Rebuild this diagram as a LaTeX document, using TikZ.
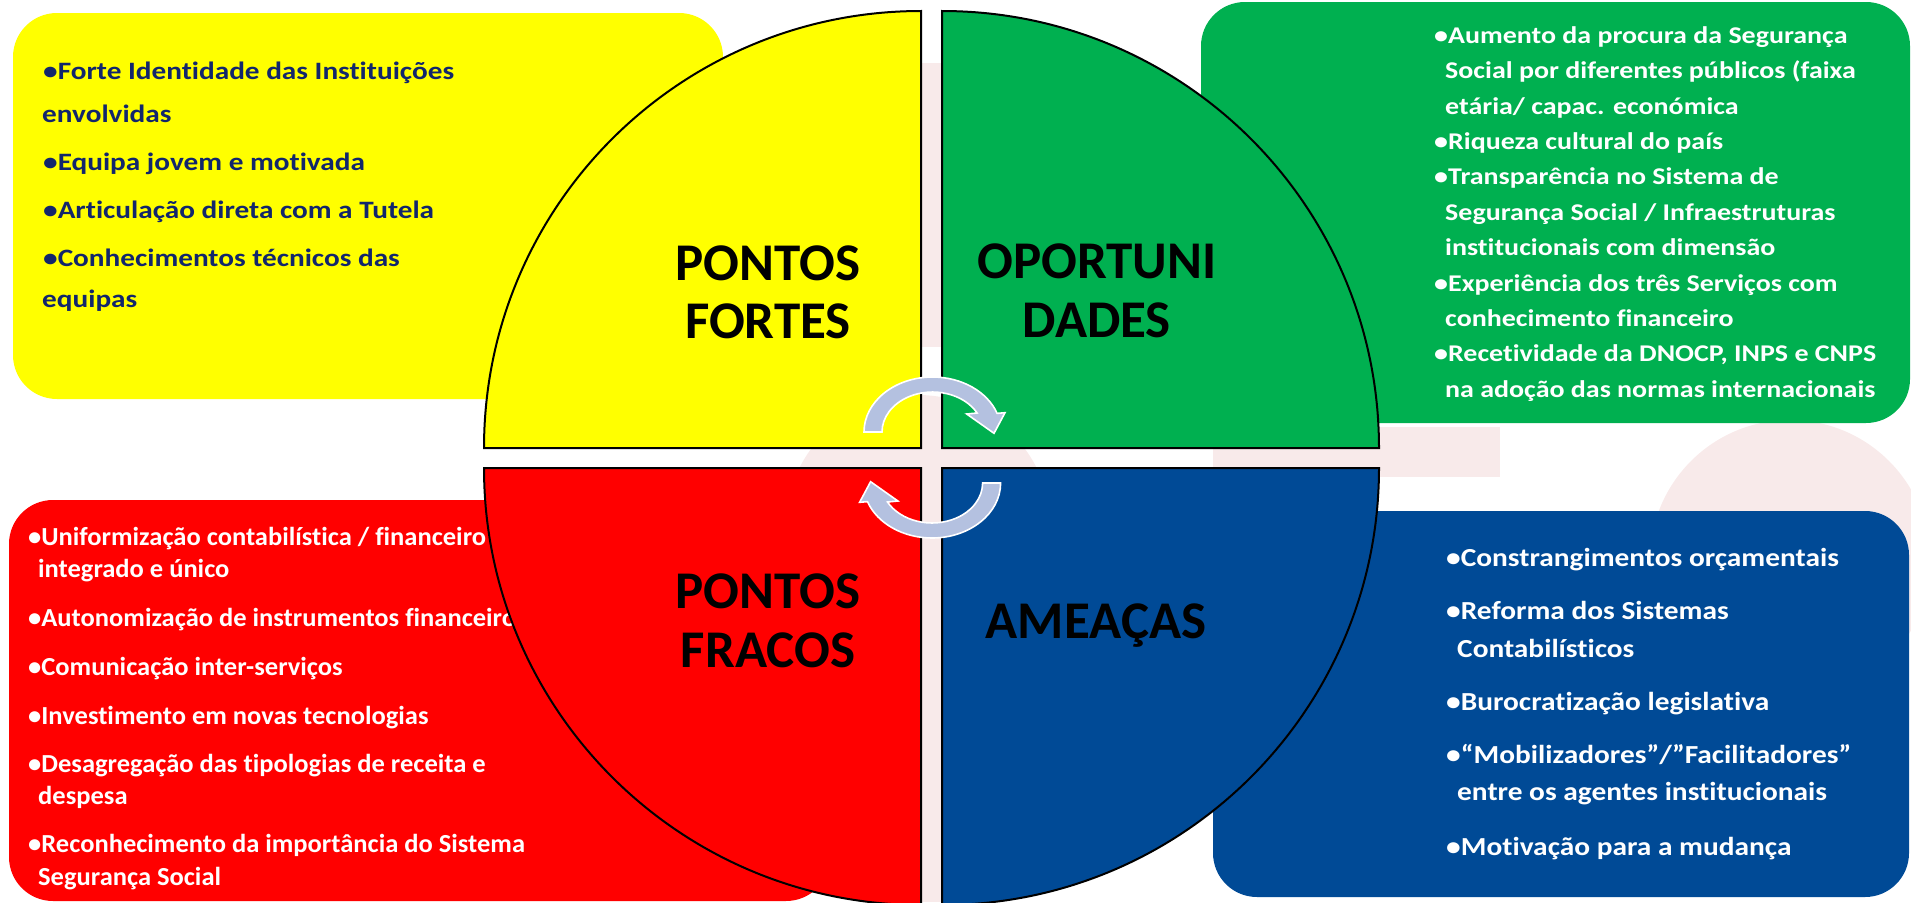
\documentclass[tikz,border=0pt]{standalone}
\usepackage{fontspec}
\setmainfont[Ligatures=NoCommon]{Carlito}
\newfontfamily\fyel[FakeStretch=1.17,Ligatures=NoCommon]{Carlito}
\newfontfamily\fgrn[FakeStretch=1.165,Ligatures=NoCommon]{Carlito}
\newfontfamily\fred[FakeStretch=1.02,Ligatures=NoCommon]{Carlito}
\newfontfamily\fblu[FakeStretch=1.13,Ligatures=NoCommon]{Carlito}
\definecolor{qyellow}{RGB}{255,255,0}
\definecolor{qgreen}{RGB}{0,176,80}
\definecolor{qred}{RGB}{255,0,0}
\definecolor{qblue}{RGB}{0,74,150}
\definecolor{navytxt}{RGB}{18,38,108}
\definecolor{arrowfill}{RGB}{180,193,224}
\definecolor{wm}{RGB}{248,234,234}
\begin{document}
\begin{tikzpicture}[x=1pt,y=-1pt,
  box/.style={rounded corners=44pt},
  quad/.style={draw=black,line width=2pt,line join=miter},
  item/.style={anchor=base west,inner sep=0pt},
  yitem/.style={item,text=navytxt,font=\fyel\bfseries\fontsize{25}{30}\selectfont},
  gitem/.style={item,text=white,font=\fgrn\bfseries\fontsize{24}{30}\selectfont},
  ritem/.style={item,text=white,font=\fred\bfseries\fontsize{26}{30}\selectfont},
  bitem/.style={item,text=white,font=\fblu\bfseries\fontsize{26}{30}\selectfont},
  big/.style={anchor=base,inner sep=0pt,font=\bfseries\fontsize{53}{58}\selectfont,text=black},
  cyc/.style={fill=arrowfill,draw=white,line width=1.6pt,line join=miter},
  wmark/.style={fill=wm,draw=none}]
\useasboundingbox (0,0) rectangle (1911,902);
% faint watermark shapes
\fill[wmark] (903,63) rectangle (962,347);
\fill[wmark] (903,528) rectangle (962,902);
\fill[wmark] (918,528) circle[radius=133pt];
\fill[wmark] (1790,560) circle[radius=140pt];
\fill[wmark] (1213,427) rectangle (1500,477);
% boxes
\fill[qyellow,box] (13,13) rectangle (723,399);
\fill[qgreen,box] (1201,2) rectangle (1910,423);
\fill[qred,box] (9,500) rectangle (830,901);
\fill[qblue,box] (1213,511) rectangle (1909,897);
% yellow text
\begin{scope}[every node/.append style={yitem}]
\node (y1) at (43,79) {•Forte Identidade das Instituições};
\node (y2) at (42,122) {envolvidas};
\node (y3) at (43,170) {•Equipa jovem e motivada};
\node (y4) at (43,218) {•Articulação direta com a Tutela};
\node (y5) at (43,266) {•Conhecimentos técnicos das};
\node (y6) at (42,307) {equipas};
\end{scope}
% green text
\begin{scope}[every node/.append style={gitem}]
\node (g1) at (1434,43.5) {•Aumento da procura da Segurança};
\node (g2) at (1445,78.9) {Social por diferentes públicos (faixa};
\node (g3) at (1445,114.2) {etária/ capac. económica};
\node (g4) at (1434,149.6) {•Riqueza cultural do país};
\node (g5) at (1434,184.9) {•Transparência no Sistema de};
\node (g6) at (1445,220.3) {Segurança Social / Infraestruturas};
\node (g7) at (1445,255.6) {institucionais com dimensão};
\node (g8) at (1434,291.0) {•Experiência dos três Serviços com};
\node (g9) at (1445,326.3) {conhecimento financeiro};
\node (g10) at (1434,361.7) {•Recetividade da DNOCP, INPS e CNPS};
\node (g11) at (1445,397.0) {na adoção das normas internacionais};
\end{scope}
% red text
\begin{scope}[every node/.append style={ritem}]
\node (r1) at (28,545) {•Uniformização contabilística / financeiro};
\node (r2) at (38,577.5) {integrado e único};
\node (r3) at (28,626.5) {•Autonomização de instrumentos financeiro};
\node (r4) at (28,675) {•Comunicação inter-serviços};
\node (r5) at (28,724) {•Investimento em novas tecnologias};
\node (r6) at (28,772.5) {•Desagregação das tipologias de receita e};
\node (r7) at (38,804) {despesa};
\node (r8) at (28,852.5) {•Reconhecimento da importância do Sistema};
\node (r9) at (38,885) {Segurança Social};
\end{scope}
% blue text
\begin{scope}[every node/.append style={bitem}]
\node (b1) at (1446,566) {•Constrangimentos orçamentais};
\node (b2) at (1446,619) {•Reforma dos Sistemas};
\node (b3) at (1457,657) {Contabilísticos};
\node (b4) at (1446,710) {•Burocratização legislativa};
\node (b5) at (1446,763) {•“Mobilizadores”/”Facilitadores”};
\node (b6) at (1457,800) {entre os agentes institucionais};
\node (b7) at (1446,855) {•Motivação para a mudança};
\end{scope}
% quadrants
\draw[quad,fill=qyellow] (921,448) -- (921,11) arc[start angle=90,end angle=180,radius=437pt] -- cycle;
\draw[quad,fill=qgreen] (942,448) -- (1379,448) arc[start angle=0,end angle=90,radius=437pt] -- cycle;
\draw[quad,fill=qred] (921,468) -- (484,468) arc[start angle=180,end angle=270,radius=437pt] -- cycle;
\draw[quad,fill=qblue] (942,468) -- (942,905) arc[start angle=270,end angle=360,radius=437pt] -- cycle;
% quadrant labels
\node[big] (sf1) at (768,280) {PONTOS};
\node[big] (sf2) at (768,338) {FORTES};
\node[big] (op1) at (1097,278) {OPORTUNI};
\node[big] (op2) at (1097,337) {DADES};
\node[big] (fr1) at (768,608) {PONTOS};
\node[big] (fr2) at (768,667) {FRACOS};
\node[big] (am1) at (1096,638) {AMEAÇAS};
% cycle arrows
\path[cyc] (864,432) arc[start angle=180,end angle=19.8,x radius=68.6pt,y radius=55pt]
  -- (1005,412.7) -- (994,433.3) -- (966.7,414) -- (977.1,413)
  arc[start angle=28.4,end angle=180,x radius=50.6pt,y radius=40pt] -- cycle;
\begin{scope}[rotate around={180:(932.3,457.5)}]
\path[cyc] (864,432) arc[start angle=180,end angle=19.8,x radius=68.6pt,y radius=55pt]
  -- (1005,412.7) -- (994,433.3) -- (966.7,414) -- (977.1,413)
  arc[start angle=28.4,end angle=180,x radius=50.6pt,y radius=40pt] -- cycle;
\end{scope}
\end{tikzpicture}
\end{document}
